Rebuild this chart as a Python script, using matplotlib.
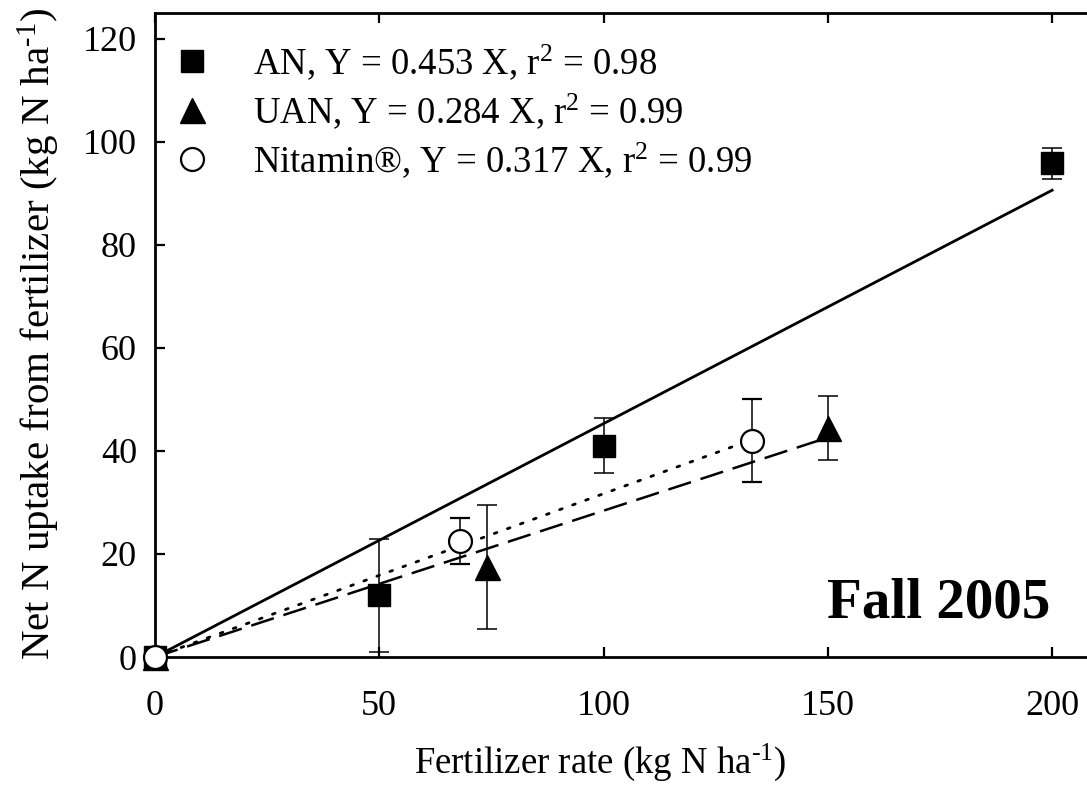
import matplotlib
matplotlib.use("Agg")
import matplotlib.pyplot as plt
from matplotlib.lines import Line2D
import numpy as np

plt.rcParams["font.family"] = ["Liberation Serif", "DejaVu Serif"]
plt.rcParams["mathtext.fontset"] = "custom"
plt.rcParams["mathtext.rm"] = "Liberation Serif"
plt.rcParams["mathtext.it"] = "Liberation Serif:italic"
plt.rcParams["mathtext.bf"] = "Liberation Serif:bold"

# fertilizer rate (kg N/ha) vs net N uptake, mean and error
an_rate = [0, 50, 100, 200]
an_uptake = [0, 12.0, 41.0, 95.8]
an_err = [0, 11.0, 5.3, 3.0]

uan_rate = [0, 74, 150]
uan_uptake = [0, 17.5, 44.5]
uan_err = [0, 12.0, 6.2]

nit_rate = [0, 68, 133]
nit_uptake = [0, 22.5, 42.0]
nit_err = [0, 4.5, 8.0]

# fitted slopes through the origin
an_slope, uan_slope, nit_slope = 0.453, 0.284, 0.317

labels = [
    r"AN, Y = 0.453 X, r$^{2}$ = 0.98",
    r"UAN, Y = 0.284 X, r$^{2}$ = 0.99",
    r"Nitamin®, Y = 0.317 X, r$^{2}$ = 0.99",
]

fig = plt.figure(figsize=(10.87, 8.0), dpi=100)
W, H = 1087, 800
ax = fig.add_axes([155 / W, 1 - 657 / H, 942 / W, 644 / H])

tick_fs = 26
leg_fs = 26.5

# regression lines
xa = np.array([0, max(an_rate)])
xu = np.array([0, max(uan_rate)])
xn = np.array([0, max(nit_rate)])
ax.plot(xa, an_slope * xa, color="black", lw=2.0, zorder=2)
ax.plot(xu, uan_slope * xu, color="black", lw=1.8, dashes=(9.5, 4.0), zorder=2)
ax.plot(xn, nit_slope * xn, color="black", lw=2.0, dashes=(1.0, 4.0),
        dash_capstyle="round", zorder=2)

ekw = dict(ls="none", ecolor="black", elinewidth=1.1, capsize=7.5, capthick=1.1,
           clip_on=False)
ax.errorbar(an_rate, an_uptake, yerr=an_err, marker="s", ms=16.5, mfc="black",
            mec="black", zorder=4, **ekw)
ax.errorbar(uan_rate, uan_uptake, yerr=uan_err, marker="^", ms=18, mfc="black",
            mec="black", zorder=4, **ekw)
ax.errorbar(nit_rate, nit_uptake, yerr=nit_err, marker="o", ms=16.5, mfc="white",
            mec="black", mew=1.6, zorder=5, **ekw)

ax.set_xlim(0, 210)
ax.set_ylim(0, 125)
ax.set_xticks([0, 50, 100, 150, 200])
ax.set_yticks([0, 20, 40, 60, 80, 100, 120])

for side in ax.spines.values():
    side.set_linewidth(2.0)
ax.tick_params(axis="both", which="major", direction="in", length=7, width=1.6,
               top=True, right=True, labelsize=tick_fs)
ax.tick_params(axis="x", pad=24)
ax.tick_params(axis="y", pad=13)

ax.set_xlabel(r"Fertilizer rate (kg N ha$^{\text{-1}}$)", fontsize=26.5)
ax.xaxis.label.set_va("baseline")
ax.xaxis.set_label_coords(0.472, -(773 - 657) / 644)
ax.set_ylabel(r"Net N uptake from fertilizer (kg N ha$^{\text{-1}}$)", fontsize=29.5)
ax.yaxis.label.set_va("baseline")
ax.yaxis.set_label_coords((50 - 155) / 942, 0.502)

handles = [
    Line2D([], [], ls="none", marker="s", ms=16.5, mfc="black", mec="black"),
    Line2D([], [], ls="none", marker="^", ms=18, mfc="black", mec="black"),
    Line2D([], [], ls="none", marker="o", ms=16.5, mfc="white", mec="black", mew=1.6),
]
ax.legend(handles, labels, loc="upper left", bbox_to_anchor=(0.0197, 0.954),
          frameon=False, fontsize=leg_fs, handlelength=1.0, handletextpad=1.16,
          labelspacing=0.25, borderpad=0, borderaxespad=0)

ax.text(0.950, 0.062, "Fall 2005", transform=ax.transAxes, ha="right",
        va="baseline", fontsize=41, fontweight="bold")

fig.savefig("out.png", dpi=100)
